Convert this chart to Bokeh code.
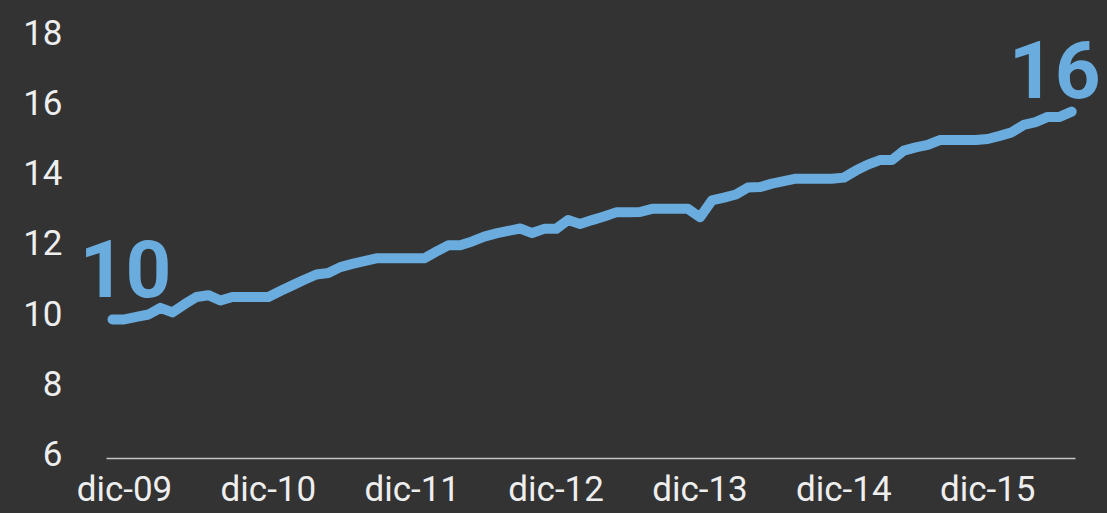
from bokeh.plotting import figure
from bokeh.models import FixedTicker, Range1d, Label, ColumnDataSource
from bokeh.embed import file_html
from bokeh.resources import INLINE

# Monthly series, nov-09 (index 0) .. jul-16 (index 80)
month_index = list(range(81))
values = [
    9.82, 9.82, 9.89, 9.96, 10.15, 10.02, 10.25, 10.46, 10.51, 10.36,
    10.46, 10.46, 10.46, 10.46, 10.63, 10.79, 10.95, 11.10, 11.14, 11.31,
    11.40, 11.48, 11.56, 11.56, 11.56, 11.56, 11.56, 11.75, 11.93, 11.93,
    12.04, 12.18, 12.27, 12.34, 12.41, 12.28, 12.40, 12.40, 12.65, 12.54,
    12.65, 12.75, 12.87, 12.87, 12.88, 12.97, 12.97, 12.97, 12.97, 12.73,
    13.21, 13.29, 13.38, 13.58, 13.59, 13.69, 13.76, 13.83, 13.83, 13.83,
    13.83, 13.86, 14.06, 14.23, 14.36, 14.36, 14.63, 14.72, 14.79, 14.93,
    14.93, 14.93, 14.93, 14.96, 15.05, 15.15, 15.36, 15.44, 15.59, 15.59,
    15.74,
]
tick_months = [1, 13, 25, 37, 49, 61, 73]
tick_labels = ["dic-09", "dic-10", "dic-11", "dic-12", "dic-13", "dic-14", "dic-15"]
y_ticks = [6, 8, 10, 12, 14, 16, 18]
start_label = "10"
end_label = "16"

BG = "#333333"
BLUE = "#6aacde"
TXT = "#eeeeee"

p = figure(width=1107, height=513,
           x_range=Range1d(-3.837, 82.99), y_range=Range1d(5.8575, 18.906),
           output_backend="svg", toolbar_location=None,
           min_border_left=66, min_border_right=0,
           min_border_top=0, min_border_bottom=55)
p.styles = {"background-color": BG}
p.background_fill_color = BG
p.border_fill_color = BG
p.outline_line_color = None
p.xgrid.visible = False
p.ygrid.visible = False

src = ColumnDataSource(dict(x=month_index, y=values))
p.line("x", "y", source=src, line_color=BLUE, line_width=10,
       line_cap="round", line_join="round")

for ax in (p.xaxis[0], p.yaxis[0]):
    ax.major_tick_line_color = None
    ax.minor_tick_line_color = None
    ax.major_tick_out = 0
    ax.major_tick_in = 0
    ax.major_label_text_font = "Roboto"
    ax.major_label_text_font_size = "35px"
    ax.major_label_text_color = TXT

p.xaxis.ticker = FixedTicker(ticks=tick_months)
p.xaxis.major_label_overrides = {m: l for m, l in zip(tick_months, tick_labels)}
p.xaxis.bounds = (month_index[0] - 0.5, month_index[-1] + 0.32)
p.xaxis.axis_line_color = "#c4c4c4"
p.xaxis.axis_line_width = 1.5
p.xaxis.major_label_standoff = 10

p.yaxis.ticker = FixedTicker(ticks=y_ticks)
p.yaxis.axis_line_color = None
p.yaxis.major_label_standoff = 4

p.add_layout(Label(x=month_index[0], y=values[0], text=start_label,
                   x_offset=13, y_offset=51, text_align="center",
                   text_baseline="middle", text_font="Roboto",
                   text_font_style="bold", text_font_size="80px",
                   text_color=BLUE))
p.add_layout(Label(x=month_index[-1], y=values[-1], text=end_label,
                   x_offset=29, y_offset=42, text_align="right",
                   text_baseline="middle", text_font="Roboto",
                   text_font_style="bold", text_font_size="80px",
                   text_color=BLUE))

open("out.html", "w").write(file_html(p, INLINE))
